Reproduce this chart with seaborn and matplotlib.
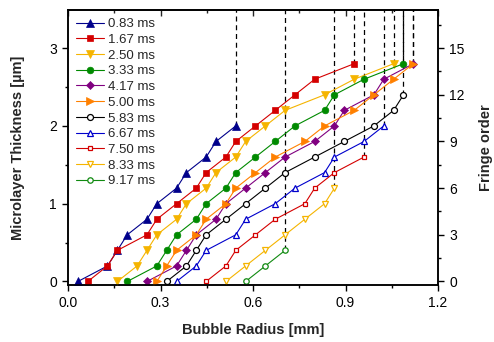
import matplotlib
matplotlib.use("Agg")
import matplotlib.pyplot as plt
import seaborn as sns
from matplotlib.ticker import MultipleLocator

# Bubble radius [mm] at each fringe, one list per time after inception
r_083 = [0.032, 0.128, 0.160, 0.192, 0.256, 0.288, 0.352, 0.384, 0.448, 0.480, 0.544]
r_167 = [0.064, 0.128, 0.160, 0.256, 0.288, 0.352, 0.416, 0.448, 0.512, 0.544, 0.608,
         0.672, 0.736, 0.800, 0.928]
r_250 = [0.160, 0.224, 0.256, 0.288, 0.352, 0.384, 0.448, 0.480, 0.544, 0.576, 0.640,
         0.704, 0.832, 0.928, 1.056]
r_333 = [0.192, 0.288, 0.320, 0.352, 0.416, 0.448, 0.512, 0.544, 0.608, 0.672, 0.736,
         0.832, 0.864, 0.960, 1.088]
r_417 = [0.256, 0.352, 0.384, 0.416, 0.480, 0.512, 0.576, 0.640, 0.704, 0.800, 0.864,
         0.896, 0.992, 1.024, 1.120]
r_500 = [0.288, 0.320, 0.352, 0.416, 0.448, 0.512, 0.544, 0.608, 0.672, 0.768, 0.832,
         0.928, 0.992, 1.056, 1.120]
r_583 = [0.320, 0.384, 0.416, 0.448, 0.512, 0.576, 0.640, 0.704, 0.800, 0.896, 0.992,
         1.056, 1.088]
r_667 = [0.352, 0.416, 0.448, 0.544, 0.576, 0.672, 0.736, 0.832, 0.864, 0.960, 1.024]
r_750 = [0.448, 0.512, 0.544, 0.608, 0.672, 0.768, 0.800, 0.864, 0.960]
r_833 = [0.512, 0.576, 0.640, 0.704, 0.768, 0.832, 0.864]
r_917 = [0.576, 0.640, 0.704]

# microlayer thickness [um] for fringe 0, 1, 2, ...
thickness = [0.0, 0.2, 0.4, 0.6, 0.8, 1.0, 1.2, 1.4, 1.6, 1.8, 2.0, 2.2, 2.4, 2.6, 2.8]
fringes_per_um = 5

labels = ["0.83 ms", "1.67 ms", "2.50 ms", "3.33 ms", "4.17 ms", "5.00 ms",
          "5.83 ms", "6.67 ms", "7.50 ms", "8.33 ms", "9.17 ms"]
radii = [r_083, r_167, r_250, r_333, r_417, r_500, r_583, r_667, r_750, r_833, r_917]

# colour, marker, size, filled
styles = [
    ("#00008B", "^", 6.3, True),
    ("#D40000", "s", 4.5, True),
    ("#F5B400", "v", 6.3, True),
    ("#008A00", "o", 4.8, True),
    ("#800080", "D", 3.9, True),
    ("#FF8000", ">", 6.0, True),
    ("#000000", "o", 4.3, False),
    ("#0000CC", "^", 4.8, False),
    ("#D40000", "s", 3.3, False),
    ("#F5B400", "v", 4.8, False),
    ("#108A10", "o", 3.9, False),
]

sns.set_style("ticks")
plt.rcParams["font.family"] = ["Liberation Sans", "DejaVu Sans"]

fig = plt.figure(figsize=(4.94, 3.42), dpi=100)
ax = fig.add_axes([0.1377, 0.1667, 0.749, 0.804])

ylo, yhi = -0.045, 3.49
ax.set_xlim(0, 1.2)
ax.set_ylim(ylo, yhi)

# dashed marker for the largest radius of every curve
for r in radii:
    n = len(r)
    ax.vlines(r[-1], thickness[n - 1], yhi, colors="black", linewidth=0.9,
              linestyles=(0, (4, 3)), zorder=1)

for lab, r, (c, m, ms, filled) in zip(labels, radii, styles):
    n = len(r)
    sns.lineplot(x=r, y=thickness[:n], ax=ax, sort=False, estimator=None,
                 color=c, linewidth=0.8, marker=m, markersize=ms,
                 markerfacecolor=c if filled else "white",
                 markeredgecolor=c, markeredgewidth=0.5 if filled else 0.9,
                 label=lab, zorder=3)

ax.xaxis.set_major_locator(MultipleLocator(0.3))
ax.xaxis.set_minor_locator(MultipleLocator(0.15))
ax.yaxis.set_major_locator(MultipleLocator(1))
ax.yaxis.set_minor_locator(MultipleLocator(0.5))
ax.xaxis.set_major_formatter(matplotlib.ticker.FormatStrFormatter("%.1f"))
ax.tick_params(which="both", direction="out", labelsize=10, width=1, colors="black")
ax.tick_params(which="major", length=4.5)
ax.tick_params(which="minor", length=2.5)

top = ax.secondary_xaxis("top")
top.xaxis.set_major_locator(MultipleLocator(0.3))
top.xaxis.set_minor_locator(MultipleLocator(0.15))
top.tick_params(which="both", direction="in", labeltop=False, width=1)
top.tick_params(which="major", length=4)
top.tick_params(which="minor", length=2.5)

ax2 = ax.twinx()
ax2.set_ylim(ylo * fringes_per_um, yhi * fringes_per_um)
ax2.yaxis.set_major_locator(MultipleLocator(3))
ax2.yaxis.set_minor_locator(MultipleLocator(1.5))
ax2.tick_params(which="both", direction="out", labelsize=10, width=1, colors="black")
ax2.tick_params(which="major", length=4.5)
ax2.tick_params(which="minor", length=2.5)

for a in (ax, ax2):
    for s in a.spines.values():
        s.set_linewidth(1.1)
        s.set_color("black")
top.spines["top"].set_linewidth(1.1)

ax.set_xlabel("Bubble Radius [mm]", fontsize=10.5, fontweight="bold", labelpad=9)
ax.set_ylabel("Microlayer Thickness [µm]", fontsize=10.5, fontweight="bold", labelpad=17)
ax2.set_ylabel("Fringe order", fontsize=10.5, fontweight="bold", labelpad=10)

ax.legend(loc="upper left", frameon=False, fontsize=9.5, handlelength=2.1,
          handletextpad=0.3, labelspacing=0.265, borderpad=0.35, borderaxespad=0.25)

fig.savefig("out.png", dpi=100)
